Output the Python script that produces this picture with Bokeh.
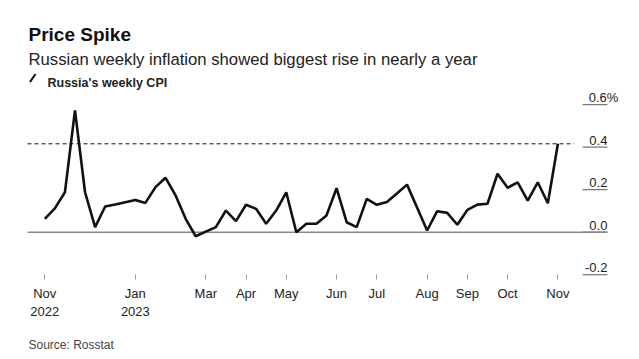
from bokeh.plotting import figure
from bokeh.models import Range1d, FixedTicker, Label, Arrow
from bokeh.embed import file_html
from bokeh.resources import INLINE

# ---- data ----
weekly_cpi = [0.063, 0.112, 0.188, 0.573, 0.188, 0.024, 0.121, 0.130, 0.141, 0.152,
              0.138, 0.212, 0.256, 0.173, 0.063, -0.019, 0.003, 0.024, 0.102, 0.052,
              0.129, 0.110, 0.040, 0.102, 0.188, 0.000, 0.040, 0.040, 0.079, 0.207,
              0.047, 0.024, 0.157, 0.129, 0.142, 0.182, 0.224, 0.116, 0.008, 0.099,
              0.091, 0.035, 0.105, 0.130, 0.134, 0.275, 0.209, 0.235, 0.149, 0.235,
              0.136, 0.416]
week_index = list(range(len(weekly_cpi)))

month_tick_pos = [0, 9, 16, 20, 24, 29, 33, 38, 42, 46, 51]
month_tick_labels = ["Nov\n2022", "Jan\n2023", "Mar", "Apr", "May", "Jun", "Jul",
                     "Aug", "Sep", "Oct", "Nov"]

y_ticks = [-0.2, 0.0, 0.2, 0.4, 0.6]
y_tick_labels = ["-0.2", "0.0", "0.2", "0.4", "0.6%"]

title_text = "Price Spike"
subtitle_text = "Russian weekly inflation showed biggest rise in nearly a year"
legend_text = "Russia's weekly CPI"
source_text = "Source: Rosstat"

# ---- layout constants ----
FONT = "Liberation Sans"
W, H = 639, 359
X_LO, X_HI = -1.72, 55.92        # plot area (index units): left edge / right end of underlines
UL_START = 53.45                 # start of the short tick underlines

p = figure(width=W, height=H, output_backend="svg", toolbar_location=None,
           x_range=Range1d(-4.404, 59.11), y_range=Range1d(-0.599, 1.0904),
           y_axis_location=None, min_border=0)
p.outline_line_color = None
for g in p.grid:
    g.visible = False
p.background_fill_color = "white"
p.border_fill_color = "white"

# x axis, placed at the bottom of the value area
xa = p.xaxis[0]
xa.fixed_location = y_ticks[0]
xa.ticker = FixedTicker(ticks=month_tick_pos)
xa.major_label_overrides = {pos: lab for pos, lab in zip(month_tick_pos, month_tick_labels)}
xa.axis_line_color = None
xa.major_tick_in = 0
xa.major_tick_out = 5
xa.major_tick_line_color = "#999999"
xa.minor_tick_line_color = None
xa.major_label_standoff = 6
xa.major_label_text_font = FONT
xa.major_label_text_font_size = "13px"
xa.major_label_text_color = "#222222"
xa.major_label_text_line_height = 1.25

# short underlines for the value ticks on the right
p.segment(x0=[UL_START] * len(y_ticks), x1=[X_HI] * len(y_ticks), y0=y_ticks, y1=y_ticks,
          line_color="#777777", line_width=1.2)

for val, lab in zip(y_ticks, y_tick_labels):
    extra = 11 if lab.endswith("%") else 0
    p.add_layout(Label(x=X_HI, y=val, x_offset=extra, y_offset=7, text=lab,
                       text_align="right", text_baseline="alphabetic",
                       text_font=FONT, text_font_size="13px", text_color="#222222"))

# zero line and dashed reference at the latest value
p.segment(x0=[X_LO], x1=[X_HI], y0=[0], y1=[0], line_color="#8a8a8a", line_width=1.5)
p.segment(x0=[X_LO], x1=[week_index[-1] + 1.6], y0=[weekly_cpi[-1]], y1=[weekly_cpi[-1]],
          line_color="#111111", line_width=1, line_dash="4 3")

p.line(week_index, weekly_cpi, line_color="#111111", line_width=2.6)

# titles / legend / source (screen units, measured from bottom-left)
p.add_layout(Label(x=28, y=H - 34, x_units="screen", y_units="screen", text=title_text,
                   text_font=FONT, text_font_style="bold", text_font_size="19px",
                   text_color="#111111", text_baseline="alphabetic"))
p.add_layout(Label(x=28, y=H - 58.5, x_units="screen", y_units="screen", text=subtitle_text,
                   text_font=FONT, text_font_size="16.7px", text_color="#222222",
                   text_baseline="alphabetic"))
p.add_layout(Arrow(x_start=29.5, y_start=H - 81.5, x_end=35, y_end=H - 73.5,
                   start_units="screen", end_units="screen", start=None, end=None,
                   line_color="#111111", line_width=2.2))
p.add_layout(Label(x=47, y=H - 82, x_units="screen", y_units="screen", text=legend_text,
                   text_font=FONT, text_font_style="bold", text_font_size="12.5px",
                   text_color="#222222", text_baseline="alphabetic"))
p.add_layout(Label(x=28, y=H - 344, x_units="screen", y_units="screen", text=source_text,
                   text_font=FONT, text_font_size="12px", text_color="#444444",
                   text_baseline="alphabetic"))

open("out.html", "w").write(file_html(p, INLINE))
